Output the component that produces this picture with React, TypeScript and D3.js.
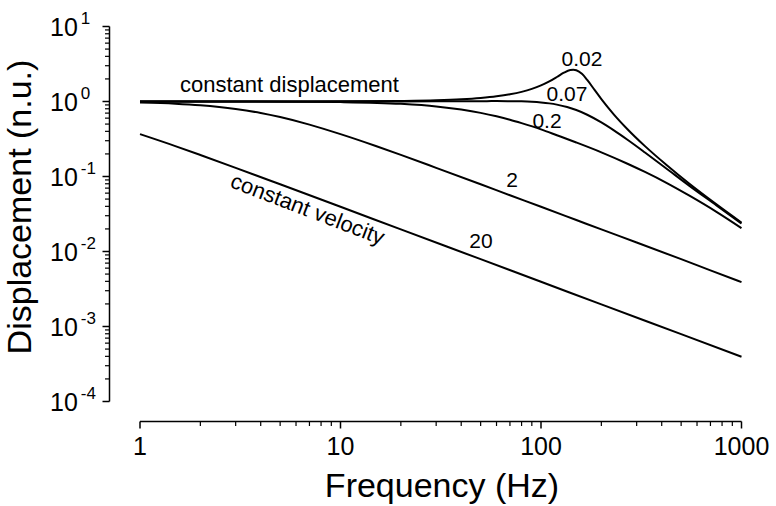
import React from "react";
import * as d3 from "d3";

// ---- data ----
const freqA = [1, 10, 20, 30, 40, 50, 60, 70, 80, 90, 100, 110, 120, 130, 140, 145, 150, 160, 170, 185, 200, 230, 270, 330, 420, 550, 750, 1000];
const valA = [1.0, 1.004, 1.017, 1.038, 1.07, 1.114, 1.171, 1.247, 1.345, 1.472, 1.638, 1.853, 2.122, 2.422, 2.63, 2.65, 2.61, 2.336, 1.937, 1.427, 1.077, 0.68, 0.427, 0.254, 0.1445, 0.0799, 0.0425, 0.0243];

const freqB = [1, 10, 20, 30, 40, 50, 60, 70, 80, 90, 100, 110, 120, 135, 150, 170, 200, 230, 270, 330, 420, 550, 750, 1000];
const valB = [1.0, 1.0, 1.003, 1.005, 1.009, 1.011, 1.012, 1.01, 1.004, 0.991, 0.971, 0.944, 0.909, 0.844, 0.769, 0.666, 0.526, 0.415, 0.309, 0.209, 0.129, 0.075, 0.0412, 0.0236];

const freqC = [1, 5, 10, 20, 30, 40, 50, 60, 70, 80, 100, 120, 150, 200, 270, 330, 420, 550, 750, 1000];
const valC = [1.0, 0.996, 0.981, 0.93, 0.86, 0.78, 0.705, 0.635, 0.572, 0.515, 0.425, 0.355, 0.284, 0.21, 0.148, 0.115, 0.083, 0.0555, 0.0338, 0.0205];

const freqD = [1, 1.5, 2, 3, 4, 5, 7, 10, 15, 20, 30, 50, 70, 100, 150, 200, 300, 500, 700, 1000];
const valD = [0.969, 0.935, 0.892, 0.796, 0.703, 0.62, 0.492, 0.367, 0.255, 0.194, 0.1305, 0.0788, 0.0563, 0.0395, 0.0263, 0.0197, 0.0132, 0.0079, 0.0056, 0.0039];

const freqE = [1, 1.5, 2, 3, 5, 10, 20, 50, 100, 200, 500, 1000];
const valE = [0.367, 0.2545, 0.1936, 0.1305, 0.0787, 0.0395, 0.0197, 0.0079, 0.00395, 0.00197, 0.00079, 0.000395];

const seriesNames = ["0.02", "0.07", "0.2", "2", "20"];
const xTickValues = [1, 10, 100, 1000];
const xTickLabels = ["1", "10", "100", "1000"];
const yExponents = [1, 0, -1, -2, -3, -4];

const W = 776;
const H = 506;
const FONT = "'Liberation Sans', Arial, Helvetica, sans-serif";

export default function App() {
  const x = d3.scaleLog().domain([1, 1000]).range([140, 741.5]);
  const y = d3.scaleLog().domain([1e-4, 10]).range([401.5, 26.5]);

  const series = [
    { name: seriesNames[0], f: freqA, v: valA },
    { name: seriesNames[1], f: freqB, v: valB },
    { name: seriesNames[2], f: freqC, v: valC },
    { name: seriesNames[3], f: freqD, v: valD },
    { name: seriesNames[4], f: freqE, v: valE },
  ];

  const line = d3
    .line<[number, number]>()
    .x((d) => x(d[0]))
    .y((d) => y(d[1]))
    .curve(d3.curveMonotoneX);

  // minor ticks
  const xMinor: number[] = [];
  for (let dec = 1; dec < 1000; dec *= 10) {
    for (let k = 2; k <= 9; k++) xMinor.push(dec * k);
  }
  const yMinor: number[] = [];
  for (let e = -4; e < 1; e++) {
    for (let k = 2; k <= 9; k++) yMinor.push(k * Math.pow(10, e));
  }

  const axisY = 421.5;
  const axisX = 109.5;

  return (
    <svg width={W} height={H} style={{ position: "absolute", left: 0, top: 0, background: "#fff" }} fontFamily={FONT}>
      <rect x={0} y={0} width={W} height={H} fill="#fff" />
      {/* y axis */}
      <line x1={axisX} x2={axisX} y1={y(10)} y2={y(1e-4)} stroke="#000" strokeWidth={1.5} />
      {yExponents.map((e) => (
        <line key={"ym" + e} x1={axisX - 7} x2={axisX} y1={y(Math.pow(10, e))} y2={y(Math.pow(10, e))} stroke="#000" strokeWidth={1.5} />
      ))}
      {yMinor.map((v, i) => (
        <line key={"yn" + i} x1={axisX - 4.5} x2={axisX} y1={y(v)} y2={y(v)} stroke="#000" strokeWidth={1.2} />
      ))}
      {yExponents.map((e) => (
        <text key={"yl" + e} x={50} y={y(Math.pow(10, e)) + 9} fontSize={25} fill="#000">
          10
          <tspan dx={3} dy={-12} fontSize={17}>
            {String(e)}
          </tspan>
        </text>
      ))}
      {/* x axis */}
      <line x1={x(1)} x2={x(1000)} y1={axisY} y2={axisY} stroke="#000" strokeWidth={1.5} />
      {xTickValues.map((v) => (
        <line key={"xm" + v} x1={x(v)} x2={x(v)} y1={axisY} y2={axisY + 7} stroke="#000" strokeWidth={1.5} />
      ))}
      {xMinor.map((v, i) => (
        <line key={"xn" + i} x1={x(v)} x2={x(v)} y1={axisY} y2={axisY + 4.5} stroke="#000" strokeWidth={1.2} />
      ))}
      {xTickValues.map((v, i) => (
        <text key={"xl" + v} x={x(v)} y={455} fontSize={25} textAnchor="middle" fill="#000">
          {xTickLabels[i]}
        </text>
      ))}
      {/* axis titles */}
      <text x={442} y={497} fontSize={34} textAnchor="middle" fill="#000">
        Frequency (Hz)
      </text>
      <text transform="translate(31,207) rotate(-90)" fontSize={34} textAnchor="middle" fill="#000">
        Displacement (n.u.)
      </text>
      {/* curves */}
      {series.map((s) => (
        <path
          key={s.name}
          d={line(s.f.map((f, i) => [f, s.v[i]] as [number, number])) || ""}
          fill="none"
          stroke="#000"
          strokeWidth={2}
        />
      ))}
      {/* curve labels */}
      <text x={582} y={66} fontSize={21} textAnchor="middle" fill="#000">{seriesNames[0]}</text>
      <text x={567} y={101} fontSize={21} textAnchor="middle" fill="#000">{seriesNames[1]}</text>
      <text x={547} y={128} fontSize={21} textAnchor="middle" fill="#000">{seriesNames[2]}</text>
      <text x={512} y={187} fontSize={21} textAnchor="middle" fill="#000">{seriesNames[3]}</text>
      <text x={481} y={248} fontSize={21} textAnchor="middle" fill="#000">{seriesNames[4]}</text>
      <text x={180} y={92} fontSize={22} fill="#000">constant displacement</text>
      <text transform="translate(305,216) rotate(21)" fontSize={22} textAnchor="middle" fill="#000">
        constant velocity
      </text>
    </svg>
  );
}
